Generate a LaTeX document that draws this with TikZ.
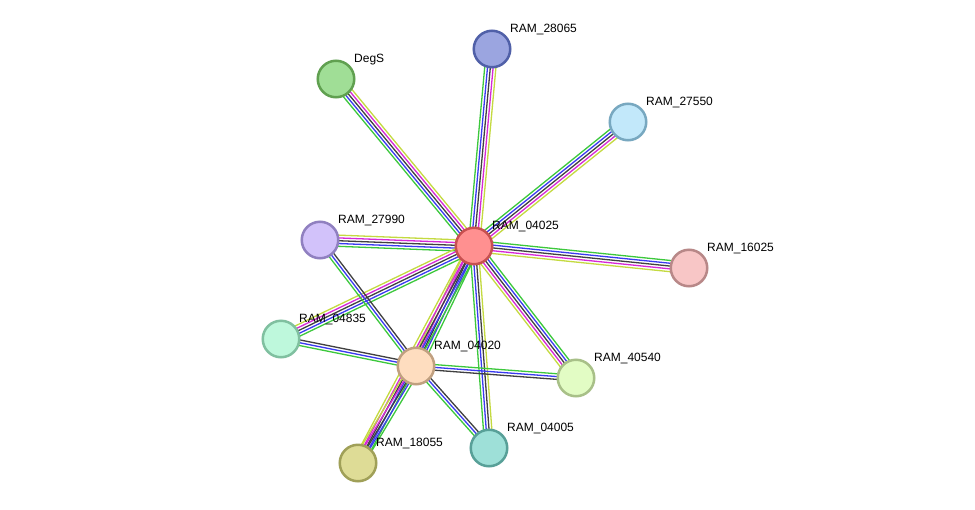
\documentclass[tikz,border=0pt]{standalone}
\usepackage{fontspec}
\setmainfont{Liberation Sans}
\usetikzlibrary{calc,backgrounds}
\definecolor{eg}{HTML}{3CC83C}
\definecolor{eb}{HTML}{3A3AF0}
\definecolor{ek}{HTML}{404040}
\definecolor{em}{HTML}{D628D6}
\definecolor{ey}{HTML}{C4DA40}
\pgfdeclarelayer{bottom}
\pgfsetlayers{bottom,background,main}
\tikzset{
  prot/.style={circle,minimum size=36.5pt,inner sep=0pt,line width=2.5pt},
  lab/.style={anchor=base west,inner sep=0pt,font=\fontsize{12}{14}\selectfont},
  eline/.style={line width=1.3pt}
}
\newcommand\eln[4]{\draw[eline,#4] ($(#1.center)!#3pt!90:(#2.center)$) -- ($(#2.center)!#3pt!-90:(#1.center)$);}
% five-line edge: green, blue, black, magenta, yellow
\newcommand\efive[2]{\eln{#1}{#2}{5.6}{eg}\eln{#1}{#2}{2.8}{eb}\eln{#1}{#2}{0}{ek}\eln{#1}{#2}{-2.8}{em}\eln{#1}{#2}{-5.6}{ey}}
\newcommand\efour[2]{\eln{#1}{#2}{4.2}{eg}\eln{#1}{#2}{1.4}{eb}\eln{#1}{#2}{-1.4}{ek}\eln{#1}{#2}{-4.2}{ey}}
\newcommand\ethree[2]{\eln{#1}{#2}{2.8}{eg}\eln{#1}{#2}{0}{eb}\eln{#1}{#2}{-2.8}{ek}}
\begin{document}
\begin{tikzpicture}[x=1pt,y=-1pt]
\begin{pgfonlayer}{bottom}
\fill[white] (0,0) rectangle (975,509);
\end{pgfonlayer}
\useasboundingbox (0,0) rectangle (975,509);
% nodes
\node[prot,fill={rgb,255:red,255;green,144;blue,144},draw={rgb,255:red,200;green,80;blue,80}] (n04025) at (474,246) {};
\node[prot,fill={rgb,255:red,155;green,165;blue,224},draw={rgb,255:red,80;green,96;blue,168}] (n28065) at (492,49) {};
\node[prot,fill={rgb,255:red,160;green,222;blue,150},draw={rgb,255:red,96;green,160;blue,80}] (ndegs) at (336,79) {};
\node[prot,fill={rgb,255:red,194;green,232;blue,250},draw={rgb,255:red,120;green,168;blue,192}] (n27550) at (628,122) {};
\node[prot,fill={rgb,255:red,248;green,198;blue,198},draw={rgb,255:red,184;green,136;blue,136}] (n16025) at (689,268) {};
\node[prot,fill={rgb,255:red,210;green,194;blue,250},draw={rgb,255:red,144;green,128;blue,192}] (n27990) at (320,240) {};
\node[prot,fill={rgb,255:red,190;green,248;blue,220},draw={rgb,255:red,128;green,192;blue,160}] (n04835) at (281,339) {};
\node[prot,fill={rgb,255:red,254;green,221;blue,191},draw={rgb,255:red,192;green,160;blue,128}] (n04020) at (416,366) {};
\node[prot,fill={rgb,255:red,226;green,252;blue,196},draw={rgb,255:red,168;green,192;blue,136}] (n40540) at (576,378) {};
\node[prot,fill={rgb,255:red,158;green,224;blue,216},draw={rgb,255:red,88;green,160;blue,152}] (n04005) at (489,448) {};
\node[prot,fill={rgb,255:red,222;green,220;blue,150},draw={rgb,255:red,160;green,160;blue,88}] (n18055) at (358,463) {};
% edges
\begin{scope}[on background layer]
\efive{n04025}{n28065}
\efive{n04025}{ndegs}
\efive{n04025}{n27550}
\efive{n04025}{n16025}
\efive{n04025}{n27990}
\efive{n04025}{n04835}
\efive{n04025}{n40540}
\efour{n04005}{n04025}
\efive{n04025}{n04020}
\efive{n04025}{n18055}
\ethree{n04020}{n27990}
\ethree{n04020}{n04835}
\ethree{n04020}{n40540}
\ethree{n04005}{n04020}
\efive{n04020}{n18055}
\end{scope}
% labels
\node[lab] (l04025) at (492,229.5) {RAM\_04025};
\node[lab] (l28065) at (510,32.5) {RAM\_28065};
\node[lab] (ldegs) at (354,62.5) {DegS};
\node[lab] (l27550) at (646,105.5) {RAM\_27550};
\node[lab] (l16025) at (707,251.5) {RAM\_16025};
\node[lab] (l27990) at (338,223.5) {RAM\_27990};
\node[lab] (l04835) at (299,322.5) {RAM\_04835};
\node[lab] (l04020) at (434,349.5) {RAM\_04020};
\node[lab] (l40540) at (594,361.5) {RAM\_40540};
\node[lab] (l04005) at (507,431.5) {RAM\_04005};
\node[lab] (l18055) at (376,446.5) {RAM\_18055};
\end{tikzpicture}
\end{document}
